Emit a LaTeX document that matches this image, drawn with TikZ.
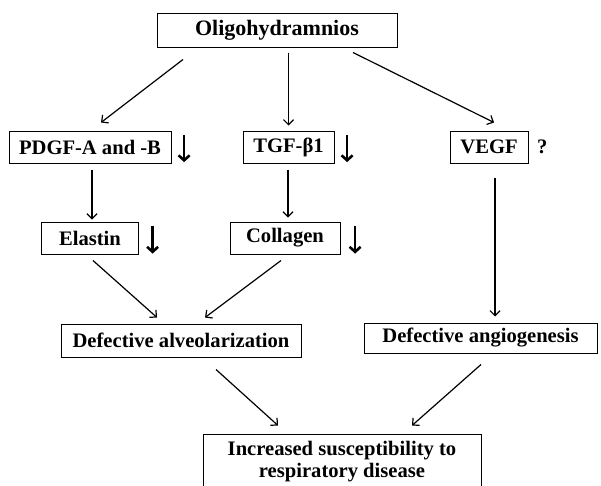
\documentclass[tikz,border=0pt]{standalone}
\usepackage{fontspec}
\setmainfont{Liberation Serif}
\usetikzlibrary{positioning,arrows.meta,calc}

\tikzset{
  box/.style={draw, line width=1pt, inner sep=0pt, minimum height=32pt,
    font=\fontsize{20.6}{22}\selectfont\bfseries},
  downmark/.style={inner sep=0pt, minimum width=8pt, minimum height=26pt},
  downline/.style={line width=2.6pt, -{Straight Barb[length=5pt,width=11pt]}},
}

\begin{document}
\begin{tikzpicture}[x=1pt, y=-1pt, line width=1.2pt, >={Straight Barb[length=5pt,width=10pt]}]
        \useasboundingbox (0,0) rectangle (601,485);
        \node[box, minimum width=240pt, minimum height=34pt, font=\fontsize{22}{24}\selectfont\bfseries] (oligo) at (277,30) {Oligohydramnios};
        \node[box, minimum width=162pt] (pdgf) at (90,147) {PDGF-A and -B};
        \node[box, minimum width=91pt] (tgf) at (288.5,147) {TGF-β1};
        \node[box, minimum width=78pt] (vegf) at (489,147) {VEGF};
        \node[box, minimum width=97pt] (elastin) at (90,238) {Elastin};
        \node[box, minimum width=110pt] (collagen) at (285,238) {Collagen};
        \node[box, minimum width=240pt, minimum height=33pt] (alveol) at (181,340.5) {Defective alveolarization};
        \node[box, minimum width=233pt, minimum height=30pt] (angio) at (480.5,338) {Defective angiogenesis};
        \node[box, minimum width=278pt, minimum height=56pt, align=center] (resp) at (342,462) {Increased susceptibility to\\respiratory disease};

        % marks beside the boxes
        \node[downmark, right=8pt of pdgf, yshift=-1.5pt] (pdgfdown) {};
        \node[downmark, right=8pt of tgf, yshift=-1.5pt] (tgfdown) {};
        \node[downmark, right=9pt of elastin, yshift=-2pt] (elastindown) {};
        \node[downmark, right=10pt of collagen, yshift=-2pt] (collagendown) {};
        \node[inner sep=0pt, font=\fontsize{20.6}{22}\selectfont\bfseries, right=8pt of vegf] (vegfq) {?};
        \draw[downline] (pdgfdown.north) -- (pdgfdown.south);
        \draw[downline] (tgfdown.north) -- (tgfdown.south);
        \draw[downline] (elastindown.north) -- (elastindown.south);
        \draw[downline] (collagendown.north) -- (collagendown.south);

        \draw[->] ($(oligo.south)+(-94,12)$) -- ($(pdgf.north)+(11,-8)$);
        \draw[->] ($(oligo.south)+(11.5,5)$) -- ($(tgf.north)+(0,-5)$);
        \draw[->] ($(oligo.south)+(76,5)$) -- ($(vegf.north)+(5,-8)$);
        \draw[->] ($(pdgf.south)+(2,6)$) -- ($(elastin.north)+(2,-2)$);
        \draw[->] ($(tgf.south)+(-0.5,6)$) -- ($(collagen.north)+(3,-4)$);
        \draw[->] ($(vegf.south)+(6,14)$) -- ($(angio.north)+(14.5,-6)$);
        \draw[->] ($(elastin.south)+(3,6)$) -- ($(alveol.north)+(-24,-6)$);
        \draw[->] ($(collagen.south)+(-4,6)$) -- ($(alveol.north)+(24,-6)$);
        \draw[->] ($(alveol.south)+(35,12)$) -- ($(resp.north)+(-64,-8)$);
        \draw[->] ($(angio.south)+(0.5,11)$) -- ($(resp.north)+(70,-8)$);
        \end{tikzpicture}
\end{document}
